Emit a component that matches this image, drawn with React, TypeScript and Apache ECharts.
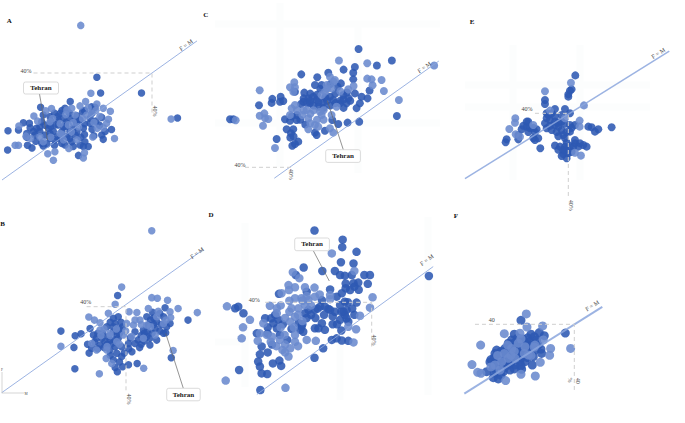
import React, { useEffect, useRef } from "react";
import * as echarts from "echarts";

type P = [number, number];

const aDark: P[] = [[25.3,38.4],[26.3,32.5],[37.2,32.5],[46.8,23.2],[18.2,29.3],[10.3,27.2],[1.6,18.4],[1.5,11.2],[5.7,21.4],[7.3,21.2],[4.4,18.7],[6.6,17.4],[8,12],[6.8,13],[20.4,9.2],[27,15.2],[26.6,16.8],[29.2,18.9],[27.5,18.1],[23,12.5],[21.7,12.5],[22.1,14.3],[19.5,16.8],[24.8,27.2],[23.9,27.4],[26.6,23.4],[23.5,21.2],[23.5,23.1],[21.5,25.5],[16.8,26.8],[14.8,23.7],[12.8,23.7],[11,24.3],[10.6,21.8],[9.2,19.3],[10.1,18.1],[8.4,18.1],[8.8,16.8],[6.6,16],[10.6,13.7],[11,12.7],[12.8,15.6],[13.7,18.1],[15,20.6],[16.4,19.9],[12.4,19.3],[12.8,17.4],[15.9,13.7],[16.8,13.1],[18.6,14.3],[18.1,18.1],[19.9,21.2],[21.7,19.3],[20.8,22.4],[18.1,23.1],[16.4,23.1],[14.1,20.6],[14.6,16.2],[11.5,16.8],[20.8,13.1],[10.1,19.9],[17.3,16.2],[19,19.3],[15.5,24.9],[13,22],[14,25],[15,22.5],[17,21.5],[18,25],[20,24],[22,26],[24,25],[25,22],[22,21],[20,18],[22,17],[24,19],[24.5,16.5],[18,15.5],[16,18],[14,15],[12,13.5],[14,13],[13,20],[9,14.5],[7.5,19.5],[11.5,20.5],[19,12.5],[17,20],[15.5,15.5],[16,26],[21,16],[19.5,22.5],[26,20.5]];
const aLight: P[] = [[21,57.8],[23.7,32.4],[45.1,22.8],[22.3,29.3],[28.9,25.7],[30,15.5],[24.2,16.1],[13.7,7.4],[12.2,9.8],[14.1,10.6],[3.5,13],[4.4,13],[21.7,8.2],[22,10.2],[4.5,20.2],[8.5,23.9],[28.4,22.7],[27.9,21.2],[25.4,19.3],[27,26.8],[25.3,28.4],[13.2,26.7],[11.7,25.9],[18.6,26.8],[20.8,27.7],[7.6,15.5],[6.4,16.4],[17.7,20.6],[15.5,17.4],[22.6,24.3],[23.9,24.9],[26.1,23.7],[19.5,24.3],[12.8,21.8],[10.1,16.2],[11,14.3],[17.8,11.8],[16.4,15],[20.4,19.9],[17.3,26.2],[15.5,21],[17,24.5],[19,21.5],[21.5,23],[23,27],[25,26],[16,17],[13.5,23],[9.5,22],[20,15],[24.5,21.5],[18.5,18],[13,16],[27,19.5]];

const bDark: P[] = [[37.4,44.2],[60.1,33],[19.1,28],[23.7,25.9],[25.6,26.8],[23.3,20.6],[23.6,10.9],[54.7,15.9],[43.7,13.3],[40.9,12.7],[39,11.8],[37.3,9.5],[36.6,11.5],[28.2,18],[27.7,22],[28.5,29.2],[29.6,26.2],[30.6,24.7],[29,20.2],[31.7,21.7],[33.3,23.2],[34.4,25.5],[36,27.7],[36.6,31.5],[37.6,34.5],[36,33.8],[37.6,24.7],[38.7,20.9],[36.6,20.9],[34.9,19.4],[37.1,17.9],[38.7,16.4],[42,18.6],[43,22.4],[40.9,22.4],[43,27.7],[46.8,25.5],[47.8,21.7],[47.8,24.7],[50,23.9],[52.2,27],[52.9,27.3],[54.3,31.5],[52.7,38.6],[48.7,36.5],[46.8,34.5],[47.3,30.8],[49.5,29.2],[52.2,34.5],[53.2,30],[50,32.3],[45.7,28.5],[33.9,30],[32.3,24.7],[35.5,22.4],[31,27],[32.5,27],[34,22],[33,20.5],[35,24],[36.5,24],[38,27],[38,29],[39,30],[36,30],[35,32],[38.5,32],[37,26],[35,17],[36,15],[38,14],[39.5,18],[41,20],[41.5,25],[44,24],[45,22],[46,27],[46,23.5],[47,28],[48.5,27],[49,31],[51,28],[51.5,31],[49,34],[51,36],[48,33],[45,26],[44.5,20.5],[30,23],[31,20]];
const bLight: P[] = [[48.4,73.6],[38.7,48],[36.6,40.2],[48.4,43.2],[50.2,42.9],[53.5,42],[56.9,38.3],[63.1,36.4],[19.1,21.1],[31.5,8.6],[45.8,11.1],[55.3,19.2],[28.1,34.4],[29.9,33],[31.7,31.8],[34.4,36.1],[41.1,36.8],[43.6,36.4],[47.3,38.3],[54.5,34.2],[54.3,36.8],[50,34.5],[40.3,31.5],[42.5,30.8],[31.7,28.5],[30.6,19.4],[33.7,15.6],[35.5,13.3],[39.3,26.2],[41.9,25.5],[49.5,26.2],[46.8,30.8],[52.2,31.5],[29,22.4],[33.9,19.4],[37.1,23.2],[45.7,24.7],[44.6,33],[34.9,27],[33,29],[35,26],[37,29],[40,28],[43,33],[45,31],[48,30],[50.5,37],[53,33],[32,26],[34,21],[38,22]];

const cDark: P[] = [[60.5,89.8],[70.5,84.9],[66,82.8],[56,81.1],[59.4,82.2],[58.9,79.8],[43.3,79.1],[48.1,77.9],[51.4,79.8],[58.9,77],[63.8,72.3],[72,61.6],[60.7,59.2],[57.2,58.8],[54.4,58.2],[52.6,59.9],[35.9,51.9],[42.4,50.8],[41.4,49.8],[40.6,49.1],[22.9,60.2],[21.9,60.2],[30.6,66.1],[34.6,68.8],[34.4,67.1],[37.1,69.7],[36.9,67.6],[37.9,67.9],[38.4,60.2],[39.9,59.6],[41.9,59.9],[38.9,56],[40.9,56],[40.2,54.3],[47.9,53.6],[47.4,54.6],[50.4,55.4],[44.2,71.4],[43.9,67.6],[43.2,66.6],[45.4,69],[46.9,69.7],[47.9,68.3],[45.9,66.9],[48.4,65.5],[49.9,67.2],[51.9,69.7],[54.2,73.9],[55.2,75.3],[52.9,68.3],[54.9,66.9],[55.9,70.4],[56.9,66.9],[59.4,71.1],[61.4,69.7],[63.2,69],[60.9,66.9],[59.9,64.9],[47.4,74.6],[49.4,74.6],[41.4,71.8],[44,69],[45,67],[46,68],[47,66],[48.5,67.5],[50,65],[51,68],[52,66],[53.5,67],[55,68],[56,68.5],[57.5,69],[46,71],[48,70.5],[50.5,69.5],[53.5,71],[49,73],[52,75],[57,71.5],[42,62],[40.5,61.5],[43,60],[44.5,58],[41,53],[40,52.5],[56,65],[58,68]];
const cLight: P[] = [[54.6,84.9],[63.1,83.8],[83.2,82.8],[63.1,77.3],[64.4,77],[67.4,76.7],[68.1,72.1],[72.6,68.3],[64.7,74.5],[30.8,72.4],[41.2,75.8],[39.9,73.7],[41.4,73.7],[40.9,71.8],[30.8,61.7],[32.2,62.7],[32.4,60.6],[33.4,60.3],[31.8,57.5],[23.6,59.8],[35.4,48.1],[40.4,64.8],[41.4,66.2],[39.9,62],[43.6,62],[44.9,64.1],[49.4,62],[48.9,63.4],[47.4,57.8],[48.4,57.1],[45.4,56],[52.9,54.6],[51.9,56.4],[52.4,62],[51.9,78.1],[53.4,76.7],[50.9,74.6],[52.4,73.2],[50.4,71.8],[57.4,72.8],[59,74.2],[53.9,65.5],[49.4,70.4],[45.4,60.6],[44,64],[46,62.5],[47,64],[48,60],[50,60],[42,64],[51,73],[53,76],[46,58.5],[50,64],[55,72]];

const dDark: P[] = [[26.8,62.9],[33.3,60],[33.2,57.6],[36.5,56.1],[32.9,52.8],[35.8,52.4],[24.3,51.1],[28.6,50],[31.5,50],[32.7,48.7],[33.8,48.5],[35.4,48.7],[38.3,48.7],[39.6,48.7],[35.8,46.1],[36.9,46.3],[39.1,45.9],[35,43.9],[33.1,42.9],[31.9,41.8],[30.4,44.1],[25,43.4],[18.6,42.7],[36.5,39.9],[33.8,40.2],[32.7,39.1],[30,37.9],[28.5,40.7],[26.9,37.6],[25.4,37.6],[31.5,37],[33.8,36],[34.6,33.8],[32.7,34.4],[28.5,33.3],[29.2,31.2],[26.9,31.7],[27.7,31.7],[30.8,28],[31.9,28.5],[33.1,27.8],[34.6,27.7],[28.8,25.3],[26.8,22.3],[53.2,48.4],[9.4,18.4],[14.3,12],[15.9,17.1],[14.6,17.3],[14.2,19.5],[13.8,21.1],[14.2,23.4],[17.2,20.5],[18.7,21.4],[19.1,19.7],[14.6,25.9],[13.5,30.1],[15.4,34.9],[17.3,33.3],[18.1,31.7],[18.8,29.6],[23.8,32.2],[24.2,30.6],[8.5,38.1],[9.2,38.6],[10.4,36.5],[22.5,48.7],[16.8,34.9],[17.7,36],[18.5,34.4],[28.1,38.6],[29.2,38.6],[34.2,37.6],[30.4,37.6],[33.5,37],[34.2,34.9],[24.6,36.5],[23.1,33.3],[23.5,31.2],[26,36],[27.5,38],[29,36],[31,35.5],[33,37],[34.5,40],[32,33],[33,31],[31,33],[27,35],[25,35],[24,33],[21.5,31.5],[19.5,33],[16,32],[16,30],[20.5,28],[17,26.5],[16,24],[36,36],[35.5,38],[36,45],[37,44],[34,44.5],[34,46]];
const dLight: P[] = [[40.2,41.6],[30.8,55.6],[36,50],[21.8,49.6],[23.3,47.7],[6.6,38.7],[11.9,34.4],[10.3,32],[10,28.5],[6.3,15],[20.1,12.7],[27.1,27.7],[35.8,27.2],[36.4,31.4],[37.3,35.7],[39.6,38.3],[20.8,45.5],[22.3,44.8],[19.2,42.9],[20.9,43.9],[24.6,44.8],[26.8,44.7],[22.3,41.3],[23.8,41.3],[25.4,40.7],[26.9,41.8],[21.5,38.1],[23.1,38.1],[24.6,39.1],[16.5,38.9],[18.1,38.1],[22.3,35.4],[21.2,33.8],[15,33.3],[14.2,30.1],[15.8,29.6],[13.7,27.7],[16.7,27.4],[18.8,28],[19.9,29.6],[19.4,24.8],[21.2,25.3],[20.8,22.7],[22.3,27.4],[22.3,29.6],[18.1,36.5],[30.4,42.3],[30.4,41],[34.6,32.2],[20,35],[19,32],[22,32],[24,34],[21,37],[23,36],[26,39],[25,42],[28,42.5],[17,29],[18,26],[20,26.5],[20,24],[23,26],[25,28],[24,40.5],[19,39],[21,40.5]];

const eDark: P[] = [[42.1,58.2],[41,51.5],[40.5,50.9],[40,49.1],[40,48],[33,46.4],[33,44.5],[36,42.1],[39,42.1],[40.5,40],[34,39.2],[33.5,37.6],[34.5,36.8],[36,38.4],[38,39.2],[33.5,32.8],[35,32],[37,33.6],[38,32],[38.5,29.6],[40.5,31.2],[42,34.4],[40.5,34.4],[46,33.6],[47,33.3],[48,31.2],[49,32.3],[53,33.3],[27.5,36],[27.5,33.6],[26,32.3],[28.5,32.8],[30.5,32.3],[25,29.6],[25,27.5],[21.5,27.5],[21.2,26.1],[29.5,28],[31,28],[30,27.2],[31.6,23.2],[36,24.5],[37.5,24],[39,24],[40.5,24.3],[42,25.6],[43.5,25.6],[44.5,24.8],[45.5,24],[43,24],[38.5,20.5],[39.5,18.4],[41.5,24],[42,27.2],[38.5,22.1],[40,20.8],[33,35.2],[36,34.4],[34.5,34],[36,36],[37,35.5],[38,36],[39,35],[36.5,31],[37,29],[39,28],[39.5,31],[41,33],[28,31],[30,31],[26.5,34],[33.5,40],[35,40],[39.5,26],[38,19.5],[37,22.5],[39,22.5],[41,21.5],[28,36],[29.5,33]];
const eLight: P[] = [[40.8,54.7],[33,50.6],[44.7,43.8],[34.5,41.3],[24.1,37.6],[24,35.5],[22.3,32.5],[24.2,29.9],[43.4,36.5],[43.4,33.6],[43.8,19.7],[42,21.1],[29.5,34.4],[39,37.6],[25.5,28.8]];

const fDark: P[] = [[24,41.9],[37.3,35.8],[29.5,36],[22,35.2],[27,35.2],[24.7,32.9],[31,34.5],[28.7,32.5],[20.2,30.9],[16.7,27.6],[16.2,26],[30.2,26],[27.4,20.4],[24.2,18.3],[20.7,18],[17.2,13.7],[15.7,14.3],[13.7,17.2],[14.7,21.9],[16.7,21.2],[18.2,25.2],[20.2,26.8],[22.2,29.2],[23.7,26],[25.7,27.6],[27.7,24.4],[25.2,22],[22.2,20.4],[20.2,20.4],[18.7,17.2],[15.7,18.8],[28.2,27.6],[29.2,30],[26.7,31.7],[24.7,30.9],[21.2,32.5],[19.2,28.4],[23.7,22],[19,22],[21,23],[23,24.5],[20,24.5],[22,26.5],[24,28],[24,24],[26,29.5],[27,27],[27,30],[25,31.5],[23,33.5],[26,33.5],[22,31],[20,28.5],[18,27],[18,23.5],[16,24],[15,23],[17,20],[19,19],[21,21.5],[22,18.5],[18,15.5],[16,16.5],[26,24],[24,20],[23,29],[28,34],[30,28]];
const fLight: P[] = [[25.6,45],[30.5,39.2],[25.8,38.7],[19,35.5],[11.9,30],[38.9,28.4],[32.9,28.4],[32.6,25.1],[9.3,20.6],[11,16.9],[12,16.4],[19.4,12.9],[28.3,15.1],[24,15.9],[29.8,21.7],[30.7,32.5],[23.7,35.7],[21.2,28.4],[23.2,30.9],[25.2,29.2],[20.2,23.6],[18.2,22],[16.2,20.4],[22.2,23.6],[26.2,25.2],[28.2,30],[17.7,18],[22,27],[20,30],[25,26],[19,26],[17,25],[15,19.5],[24,33],[27,25],[21,25],[28,29]];

const aLine: P[] = [[0, 0], [52, 52]];
const bLine: P[] = [[0, 0], [65, 65]];
const cLine: P[] = [[35.2, 35.4], [84.6, 84.7]];
const dLine: P[] = [[13.5, 10.6], [54.2, 51.4]];
const eLine: P[] = [[9, 8.6], [70.3, 69.9]];
const fLine: P[] = [[7, 6.6], [48.4, 48.4]];

const aDash: P[] = [[8.4, 40], [40, 40], [40, 24.3]];
const bDash: P[] = [[27.4, 39.1], [40.1, 39.1], [40.1, 0.5]];
const cDash: P[] = [[26.4, 40], [40, 40], [40, 38.9]];
const dDash: P[] = [[15.4, 40], [40, 40], [40, 25.9]];
const eDash: P[] = [[30, 40], [40, 40], [40, 0]];
const fDash: P[] = [[10.2, 40], [40, 40], [40, 8.4]];

const panels = [
  { ax: 152, ay: 73, sx: 3.75, sy: 2.675, f: [0, 60], m: [0, 62], dark: aDark, light: aLight, line: aLine, dash: aDash, size: 7.5, lw: 1 },
  { ax: 125.7, ay: 304.7, sx: 3.1, sy: 2.2, f: [0, 70], m: [0, 80], dark: bDark, light: bLight, line: bLine, dash: bDash, size: 7.5, lw: 1 },
  { ax: 290.3, ay: 167.3, sx: 3.33, sy: 2.377, f: [20, 90], m: [30, 95], dark: cDark, light: cLight, line: cLine, dash: cDash, size: 8, lw: 1 },
  { ax: 371.7, ay: 302.3, sx: 4.333, sy: 3.133, f: [5, 60], m: [10, 65], dark: dDark, light: dLight, line: dLine, dash: dDash, size: 8.5, lw: 1 },
  { ax: 568.3, ay: 113.3, sx: 3.333, sy: 2.083, f: [5, 75], m: [0, 70], dark: eDark, light: eLight, line: eLine, dash: eDash, size: 8, lw: 1.5 },
  { ax: 574.3, ay: 324.3, sx: 3.333, sy: 2.077, f: [5, 50], m: [5, 50], dark: fDark, light: fLight, line: fLine, dash: fDash, size: 9, lw: 2 },
];

const panelLetters: [string, number, number][] = [["A", 9.3, 20.7], ["B", 2.7, 224.3], ["C", 205.7, 15.3], ["D", 211, 214.7], ["E", 472, 22], ["F", 456, 216]];
const flatLabels: [string, number, number][] = [["40%", 26, 71], ["40%", 85.7, 302], ["40%", 240, 165], ["40%", 254.3, 300], ["40%", 527, 109], ["40", 491.7, 320]];
const sideLabels: [string, number, number][] = [["40%", 154.5, 111], ["40%", 129, 399], ["40%", 290.7, 174.3], ["40%", 374.3, 340], ["40%", 571, 205.3], ["40", 577.7, 380.7], ["%", 570, 380]];
const fmLabels: [number, number, number][] = [[186, 45, 0.62], [197, 253, 0.62], [424.3, 67.3, 0.62], [426.7, 260, 0.62], [658.3, 53.3, 0.56], [592.3, 305.7, 0.56]];
const callouts: [number, number, number, number, number, number][] = [
  [23.5, 82, 35, 12, 47.5, 140],
  [166.7, 388.3, 33.5, 12.5, 165.7, 333.3],
  [325.7, 149.7, 34.7, 12.7, 327.3, 100.7],
  [294.7, 238, 34.7, 12.7, 329.3, 281],
];
const leaderStart: [number, number][] = [[39.5, 94], [183.3, 388.3], [343.3, 149.7], [313.3, 250.7]];
const ghostLines: [number, number, number, number][] = [
  [280, 3, 280, 167], [358, 27, 358, 173], [215, 24, 440, 24], [215, 123, 440, 123],
  [245, 223, 245, 387], [340, 303, 340, 400], [428, 217, 428, 395], [215, 342, 240, 342],
  [465, 85, 650, 85], [465, 107, 650, 107], [513, 45, 513, 180], [580, 45, 580, 180],
];

const SERIF = "Liberation Serif";
const DARK = "#2d59b3";
const LIGHT = "#6a8ace";

document.body.style.margin = "0";

export default function App() {
  const ref = useRef<HTMLDivElement>(null);
  useEffect(() => {
    const chart = echarts.init(ref.current!, undefined, { renderer: "svg" });
    const grid: any[] = [], xAxis: any[] = [], yAxis: any[] = [], series: any[] = [];
    panels.forEach((p, i) => {
      grid.push({
        left: p.ax + (p.f[0] - 40) * p.sx,
        top: p.ay - (p.m[1] - 40) * p.sy,
        width: (p.f[1] - p.f[0]) * p.sx,
        height: (p.m[1] - p.m[0]) * p.sy,
      });
      xAxis.push({ type: "value", gridIndex: i, min: p.f[0], max: p.f[1], show: false });
      yAxis.push({ type: "value", gridIndex: i, min: p.m[0], max: p.m[1], show: false });
      const dots = (name: string, data: P[], color: string, z: number) => ({
        type: "scatter", name, data, xAxisIndex: i, yAxisIndex: i, symbolSize: p.size, clip: false, z,
        itemStyle: { color, opacity: 0.88 },
      });
      series.push(dots("Dark", p.dark, DARK, 3));
      series.push(dots("Light", p.light, LIGHT, 4));
      series.push({
        type: "line", name: "F = M", data: p.line, xAxisIndex: i, yAxisIndex: i, symbol: "none", clip: false, z: 5,
        lineStyle: { color: "#8ba6dd", width: p.lw, opacity: 0.85 },
      });
      series.push({
        type: "line", name: "40%", data: p.dash, xAxisIndex: i, yAxisIndex: i, symbol: "none", clip: false, z: 6,
        lineStyle: { color: "#cfcfcf", width: 1, type: [4, 3] },
      });
    });
    const txt = (text: string, x: number, y: number, extra: any = {}, rotation = 0) => ({
      type: "text", x, y, rotation, z: 20,
      style: { text, fontFamily: SERIF, fontSize: 6, fill: "#444", align: "center", verticalAlign: "middle", ...extra },
    });
    const graphic: any[] = [];
    ghostLines.forEach(([x1, y1, x2, y2]) =>
      graphic.push({ type: "line", z: 0, shape: { x1, y1, x2, y2 }, style: { stroke: "#fcfdfd", lineWidth: 7 } }));
    panelLetters.forEach(([t, x, y]) => graphic.push(txt(t, x, y, { fontWeight: "bold", fontSize: 7, fill: "#111" })));
    flatLabels.forEach(([t, x, y]) => graphic.push(txt(t, x, y)));
    sideLabels.forEach(([t, x, y]) => graphic.push(txt(t, x, y, {}, -Math.PI / 2)));
    fmLabels.forEach(([x, y, r]) => graphic.push(txt("F = M", x, y, {}, r)));
    callouts.forEach(([x, y, w, h, ex, ey], i) => {
      const [sx, sy] = leaderStart[i];
      graphic.push({ type: "line", z: 19, shape: { x1: sx, y1: sy, x2: ex, y2: ey }, style: { stroke: "#666", lineWidth: 0.7 } });
      graphic.push({ type: "rect", z: 19, shape: { x, y, width: w, height: h, r: 2 }, style: { fill: "#fff", stroke: "#ccc", lineWidth: 0.7 } });
      graphic.push(txt("Tehran", x + w / 2, y + h / 2, { fontWeight: "bold", fontSize: 7, fill: "#222" }));
    });
    graphic.push({ type: "polyline", z: 19, shape: { points: [[2, 372], [2, 393], [24, 393]] }, style: { stroke: "#bbb", lineWidth: 0.6, fill: "none" } });
    graphic.push(txt("F", 2, 370, { fontSize: 3.5 }));
    graphic.push(txt("M", 26, 394, { fontSize: 3.5 }));
    chart.setOption({ animation: false, backgroundColor: "#fff", tooltip: { show: false }, grid, xAxis, yAxis, series, graphic });
    return () => chart.dispose();
  }, []);
  return <div ref={ref} style={{ width: 685, height: 423, overflow: "hidden" }} />;
}
